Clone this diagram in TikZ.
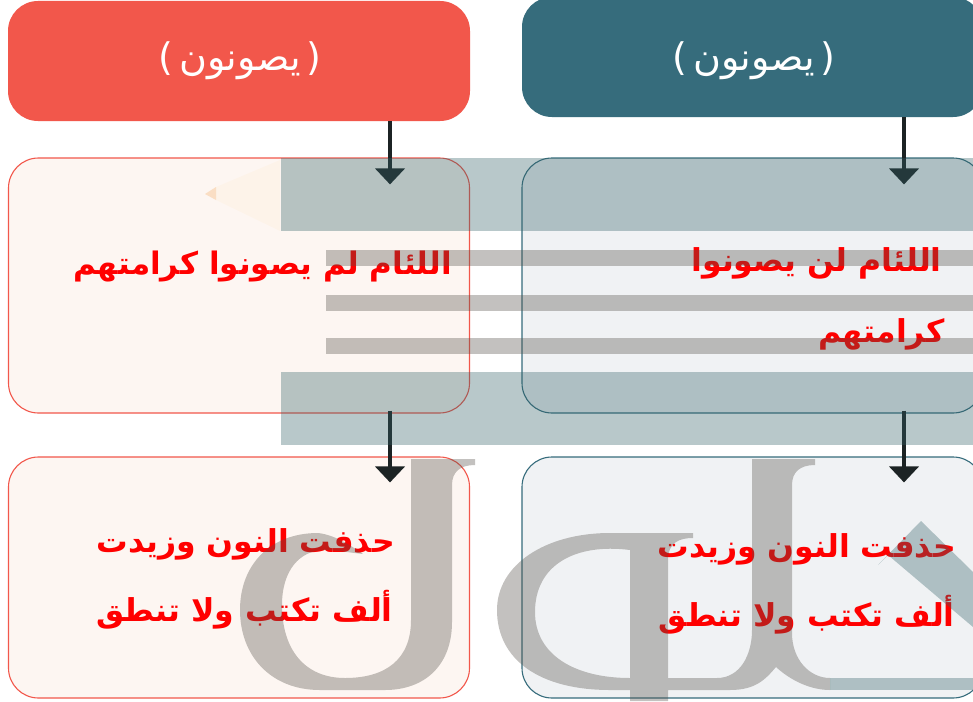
\documentclass[tikz,border=0pt]{standalone}
\usepackage{fontspec}
\usetikzlibrary{arrows.meta,calc}
\TeXXeTstate=1
\newfontfamily\arabicfont[Script=Arabic]{DejaVu Sans}
\definecolor{coral}{HTML}{F2574B}
\definecolor{teal}{HTML}{366C7C}
\definecolor{arrowdark}{HTML}{1C2324}
\definecolor{wmgray}{HTML}{555049}
\definecolor{wmteal}{HTML}{346268}
\definecolor{tintL}{HTML}{F08050}
\definecolor{tintR}{HTML}{2F4F6F}
\tikzset{
  x=1pt,y=-1pt,
  headbox/.style={rectangle,rounded corners=30pt,text=white,inner sep=0pt,minimum height=#1},
  headL/.style={headbox=120pt,fill=coral,minimum width=462pt},
  headR/.style={headbox=120pt,fill=teal,minimum width=461pt},
  panel/.style={rectangle,rounded corners=30pt,line width=1.1pt,fill opacity=0.07,draw opacity=1,minimum width=461pt,inner sep=0pt},
  panelL/.style={panel,draw=coral,fill=tintL},
  panelR/.style={panel,draw=teal,fill=tintR},
  headtext/.style={text=white,font=\arabicfont\fontsize{38}{44}\selectfont,inner sep=0pt},
  body/.style={text=red,font=\arabicfont\bfseries\fontsize{31.5}{38}\selectfont,inner sep=0pt,anchor=east},
  arr/.style={line width=4pt,draw=arrowdark,-{Triangle[width=29pt,length=16pt,fill=arrowdark]}},
  wmT/.style={fill=wmteal,fill opacity=0.35},
  wmG/.style={fill=wmgray,fill opacity=0.35}
}
\begin{document}
\begin{tikzpicture}
\useasboundingbox (0,0) rectangle (973,701);
\fill[white] (0,0) rectangle (973,701);
% boxes
\node[headL] (hL) at (239,61) {};
\node[headR] (hR) at (752.5,57) {};
\node[panelL,minimum height=255pt] (pL) at (239,285.5) {};
\node[panelR,minimum height=255pt] (pR) at (752.5,285.5) {};
\node[panelL,minimum height=241pt] (qL) at (239,577.5) {};
\node[panelR,minimum height=241pt] (qR) at (752.5,577.5) {};
% texts
\node[headtext] (tL) at (240,61) {\beginR(\,يصونون\,)\endR};
\node[headtext] (tR) at (754,61) {\beginR(\,يصونون\,)\endR};
\node[body,font=\arabicfont\bfseries\fontsize{31}{38}\selectfont] (a1) at (452,267) {\beginR اللئام لم يصونوا كرامتهم\endR};
\node[body] (b1) at (942,263) {\beginR اللئام لن يصونوا\endR};
\node[body] (b2) at (945,334) {\beginR كرامتهم\endR};
\node[body] (c1) at (395,544) {\beginR حذفت النون وزيدت\endR};
\node[body] (c2) at (393,610) {\beginR ألف تكتب ولا تنطق\endR};
\node[body] (d1) at (956,549) {\beginR حذفت النون وزيدت\endR};
\node[body] (d2) at (955,615) {\beginR ألف تكتب ولا تنطق\endR};
% arrows
\coordinate (axL) at (390,0);
\coordinate (axR) at (904,0);
\draw[arr] (hL.south -| axL) -- ($(pL.north -| axL)+(0,27)$);
\draw[arr] (hR.south -| axR) -- ($(pR.north -| axR)+(0,27)$);
\draw[arr] ($(pL.south -| axL)+(0,-3)$) -- ($(qL.north -| axL)+(0,26)$);
\draw[arr] ($(pR.south -| axR)+(0,-3)$) -- ($(qR.north -| axR)+(0,26)$);
% watermark
\fill[wmT] (281,158) rectangle (973,231);
\fill[wmT] (281,372) rectangle (973,445);
\fill[wmG] (326,250) rectangle (973,266);
\fill[wmG] (326,295) rectangle (973,311);
\fill[wmG] (326,338) rectangle (973,354);
\fill[orange!60!yellow,fill opacity=0.035] (216,187) -- (280,160) -- (280,231) -- (216,200) -- cycle;
\fill[orange!80!brown,fill opacity=0.2] (205,194) -- (216,187) -- (216,200) -- cycle;
% left letter
\fill[wmG] (475,459) -- (475,465) .. controls (460,465) and (452,472) .. (452,485) -- (452,622)
  .. controls (452,665) and (425,690) .. (385,690) -- (320,690)
  .. controls (270,690) and (240,655) .. (240,610)
  .. controls (240,565) and (270,533) .. (318,533) .. controls (335,535) and (350,545) .. (363,554)
  .. controls (345,552) and (335,550) .. (325,550) .. controls (300,550) and (282,570) .. (282,605)
  .. controls (282,650) and (305,678) .. (345,678) .. controls (385,678) and (411,660) .. (411,620)
  -- (411,459) -- cycle;
% right letters
\fill[wmG] (693,533) -- (693,538) .. controls (680,538) and (668,542) .. (668,560) -- (668,701) -- (630,701) -- (630,690) -- (610,690)
  .. controls (540,690) and (497,660) .. (497,610) .. controls (497,565) and (545,533) .. (610,533) -- cycle
  (630,550) .. controls (575,543) and (535,565) .. (535,612) .. controls (535,655) and (575,678) .. (630,678) -- cycle
  (668,678) -- (717,678) .. controls (740,678) and (752,655) .. (752,630) -- (752,459) -- (815,459) -- (815,465)
  .. controls (800,465) and (792,472) .. (792,485) -- (792,633) .. controls (792,660) and (810,678) .. (830,678) -- (830,690)
  .. controls (810,690) and (790,680) .. (776,667) .. controls (765,680) and (755,690) .. (730,690) -- (668,690) -- cycle;
\fill[wmT] (830,678) -- (973,678) -- (973,690) -- (830,690) -- cycle;
\fill[wmT] (878,565) -- (921,521) -- (973,572) -- (973,627) -- (888,555) -- cycle;
\end{tikzpicture}
\end{document}
